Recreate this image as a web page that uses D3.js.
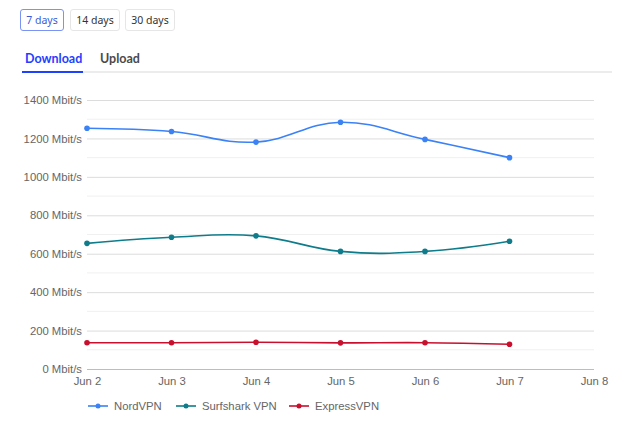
<!DOCTYPE html>
<html>
<head>
<meta charset="utf-8">
<script src="https://cdn.jsdelivr.net/npm/d3@7"></script>
<style>
  body { margin: 0; background: #fff; font-family: "Noto Sans", "Open Sans", sans-serif; }
  .btn { position: absolute; top: 9px; height: 20px; line-height: 20px; border: 1px solid #e6e6e6; border-radius: 3px;
         font-size: 10.5px; color: #333; text-align: center; background: #fff; }
  .btn.active { border-color: #7b93f5; color: #3b5bdb; }
  .tab { position: absolute; top: 51px; font-family: Lato, "Noto Sans", sans-serif; font-size: 12.5px; font-weight: 700; color: #4a4a4a; }
  .tab.active { color: #1e40ff; }
  #tabline { position: absolute; left: 22px; top: 71px; width: 590px; height: 2px; background: #ececec; }
  #tabsel { position: absolute; left: 22px; top: 71px; width: 61px; height: 2px; background: #1e40ff; }
  svg { position: absolute; left: 0; top: 0; }
</style>
</head>
<body>
<div class="btn active" style="left:20px;width:42px">7 days</div>
<div class="btn" style="left:70px;width:48px">14 days</div>
<div class="btn" style="left:125px;width:48px">30 days</div>
<div class="tab active" style="left:25px">Download</div>
<div class="tab" style="left:100px">Upload</div>
<div id="tabline"></div>
<div id="tabsel"></div>
<script>
// chart data
var days = ["Jun 2", "Jun 3", "Jun 4", "Jun 5", "Jun 6", "Jun 7", "Jun 8"];
var nordVPN = [1253, 1236, 1181, 1284, 1195, 1100];
var surfsharkVPN = [654, 686, 693, 612, 612, 665];
var expressVPN = [137, 137, 139, 136, 137, 129];
var yTicks = [0, 200, 400, 600, 800, 1000, 1200, 1400];

var series = [
  { name: "NordVPN", values: nordVPN, color: "#3b82f6" },
  { name: "Surfshark VPN", values: surfsharkVPN, color: "#0e7c8a" },
  { name: "ExpressVPN", values: expressVPN, color: "#c8102e" }
];

var svgWidth = 640;
var svgHeight = 422;
var margin = { top: 100, left: 87, right: 46, bottom: 53 };
var chartWidth = svgWidth - margin.left - margin.right;
var chartHeight = svgHeight - margin.top - margin.bottom;
var labelFont = "'Liberation Sans', Arial, sans-serif";

var svg = d3.select("body").append("svg")
  .attr("width", svgWidth)
  .attr("height", svgHeight);

var chartGroup = svg.append("g")
  .attr("transform", `translate(${margin.left}, ${margin.top})`);

var xScale = d3.scalePoint().domain(days).range([0, chartWidth]);
var yScale = d3.scaleLinear().domain([0, 1400]).range([chartHeight, 0]);

// minor grid lines every 100
chartGroup.append("g")
  .selectAll("line")
  .data(d3.range(100, 1400, 200))
  .enter().append("line")
  .attr("x1", 0).attr("x2", chartWidth)
  .attr("y1", d => yScale(d)).attr("y2", d => yScale(d))
  .attr("stroke", "#f0f0f0");

// y axis with major grid
var yAxis = chartGroup.append("g")
  .call(d3.axisLeft(yScale).tickValues(yTicks).tickSize(-chartWidth).tickPadding(5)
    .tickFormat(d => d + " Mbit/s"));
yAxis.select(".domain").remove();
yAxis.selectAll(".tick line").attr("stroke", d => d === 0 ? "#bdbdbd" : "#dcdcdc");
yAxis.selectAll("text")
  .attr("fill", "#666")
  .style("font-family", labelFont)
  .style("font-size", "11.3px");

// x axis
var xAxis = chartGroup.append("g")
  .attr("transform", `translate(0, ${chartHeight})`)
  .call(d3.axisBottom(xScale).tickSize(0).tickPadding(8));
xAxis.select(".domain").remove();
xAxis.selectAll("text")
  .attr("fill", "#666")
  .style("font-family", labelFont)
  .style("font-size", "11.3px");

var line = d3.line()
  .x((d, i) => xScale(days[i]))
  .y(d => yScale(d))
  .curve(d3.curveCardinal.tension(-0.2));

series.forEach(function(s) {
  chartGroup.append("path")
    .datum(s.values)
    .attr("fill", "none")
    .attr("stroke", s.color)
    .attr("stroke-width", 1.6)
    .attr("d", line);

  chartGroup.selectAll(null)
    .data(s.values)
    .enter().append("circle")
    .attr("cx", (d, i) => xScale(days[i]))
    .attr("cy", d => yScale(d))
    .attr("r", 2.8)
    .attr("fill", s.color);
});

// legend
var legendX = [88, 176, 289];
var legend = svg.append("g").attr("transform", "translate(0, 406)");
series.forEach(function(s, i) {
  var g = legend.append("g").attr("transform", `translate(${legendX[i]}, 0)`);
  g.append("line").attr("x1", 0).attr("x2", 20).attr("y1", 0).attr("y2", 0)
    .attr("stroke", s.color).attr("stroke-width", 1.6);
  g.append("circle").attr("cx", 10).attr("cy", 0).attr("r", 2.5).attr("fill", s.color);
  g.append("text").attr("x", 26).attr("y", 4)
    .attr("fill", "#666")
    .style("font-family", labelFont)
    .style("font-size", "11.3px")
    .text(s.name);
});
</script>
</body>
</html>
